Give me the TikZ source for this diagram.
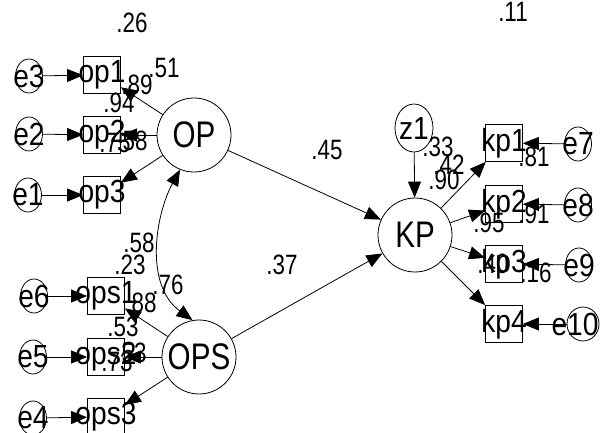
\documentclass[tikz,border=0pt]{standalone}
\usepackage{fontspec}
\setmainfont{Liberation Sans}
\usepackage{graphicx}
\usetikzlibrary{arrows.meta,shapes.geometric}

% narrow text that may spill over its frame
\newcommand\vname[1]{\makebox[0pt]{\scalebox{0.88}[1]{#1}}}
\newcommand\lname[1]{\makebox[0pt]{\scalebox{0.8}[1]{#1}}}
\newcommand\coef[1]{\scalebox{0.8}[1]{#1}}

\tikzset{
  tip/.style={-{Triangle[length=16pt,width=13pt]}},
  dbl/.style={{Triangle[length=16pt,width=13pt]}-{Triangle[length=16pt,width=13pt]}},
  latent/.style={draw, circle, minimum size=74pt, inner sep=0pt,
    font=\fontsize{37}{37}\selectfont},
  obs/.style={draw, rectangle, minimum size=37pt, inner sep=0pt,
    font=\fontsize{32}{32}\selectfont},
  err/.style={draw, ellipse, minimum width=27pt, minimum height=34pt, inner sep=0pt,
    font=\fontsize{32}{32}\selectfont},
  dist/.style={draw, ellipse, minimum width=38pt, minimum height=48pt, inner sep=0pt,
    font=\fontsize{32}{32}\selectfont},
  est/.style={inner sep=0pt, font=\fontsize{28}{28}\selectfont},
}

\begin{document}
\begin{tikzpicture}[x=1pt, y=-1pt, line width=0.8pt]
\useasboundingbox (0,0) rectangle (608,433);
\fill[white] (0,0) rectangle (608,433);

% latent variables
\node[latent] (OP)  at (194,135) {\lname{OP}};
\node[latent] (OPS) at (199,357) {\lname{OPS}};
\node[latent] (KP)  at (415,235) {\lname{KP}};
\node[dist]   (z1)  at (414,128) {\vname{z1}};

% indicators of OP
\node[obs] (op1) at (102,75)  {\vname{op1}};
\node[obs] (op2) at (102,135) {\vname{op2}};
\node[obs] (op3) at (102,195) {\vname{op3}};
\node[err] (e3) at (29,76)  {\vname{e3}};
\node[err] (e2) at (29,134) {\vname{e2}};
\node[err] (e1) at (28,195) {\vname{e1}};

% indicators of OPS
\node[obs] (ops1) at (106,296) {\vname{ops1}};
\node[obs] (ops2) at (106,357) {\vname{ops2}};
\node[obs] (ops3) at (106,417) {\vname{ops3}};
\node[err] (e6) at (34,296) {\vname{e6}};
\node[err] (e5) at (33,357) {\vname{e5}};
\node[err] (e4) at (33,418) {\vname{e4}};

% indicators of KP
\node[obs] (kp1) at (504,143) {\vname{kp1}};
\node[obs] (kp2) at (504,204) {\vname{kp2}};
\node[obs] (kp3) at (504,264) {\vname{kp3}};
\node[obs] (kp4) at (504,324) {\vname{kp4}};
\node[err] (e7)  at (578,144) {\vname{e7}};
\node[err] (e8)  at (578,205) {\vname{e8}};
\node[err] (e9)  at (579,265) {\vname{e9}};
\node[err, minimum width=32pt] (e10) at (583,324) {};
\node[font=\fontsize{32}{32}\selectfont, inner sep=0pt] (e10t) at (575,324) {\vname{e10}};

% error terms
\draw[tip] (e3) -- (op1);
\draw[tip] (e2) -- (op2);
\draw[tip] (e1) -- (op3);
\draw[tip] (e6) -- (ops1);
\draw[tip] (e5) -- (ops2);
\draw[tip] (e4) -- (ops3);
\draw[tip] (e7) -- (kp1);
\draw[tip] (e8) -- (kp2);
\draw[tip] (e9) -- (kp3);
\draw[tip] (e10) -- (kp4);
\draw[tip] (z1) -- (KP);

% loadings
\draw[tip] (OP) -- (op1);
\draw[tip] (OP) -- (op2);
\draw[tip] (OP) -- (op3);
\draw[tip] (OPS) -- (ops1);
\draw[tip] (OPS) -- (ops2);
\draw[tip] (OPS) -- (ops3);
\draw[tip] (KP) -- (kp1);
\draw[tip] (KP) -- (kp2);
\draw[tip] (KP) -- (kp3);
\draw[tip] (KP) -- (kp4);

% structural paths and covariance
\draw[tip] (OP) -- (KP);
\draw[tip] (OPS) -- (KP);
\draw[dbl] (OP.248) .. controls +(-25,46) and +(-48,-35) .. (OPS.100);

% estimates
\node[est] (c26) at (132,23)  {\coef{.26}};
\node[est] (c51) at (164,68)  {\coef{.51}};
\node[est] (c89) at (137,85)  {\coef{.89}};
\node[est] (c94) at (119,103) {\coef{.94}};
\node[est] (c75) at (115,143) {\coef{.75}};
\node[est] (c58a) at (132,141) {\coef{.58}};
\node[est] (c58b) at (139,243) {\coef{.58}};
\node[est] (c23) at (130,265) {\coef{.23}};
\node[est] (c76) at (168,285) {\coef{.76}};
\node[est] (c88) at (141,303) {\coef{.88}};
\node[est] (c53a) at (123,327) {\coef{.53}};
\node[est] (c73) at (117,362) {\coef{.73}};
\node[est] (c53b) at (131,353) {\coef{.53}};
\node[est] (c45) at (327,150) {\coef{.45}};
\node[est] (c37) at (282,265) {\coef{.37}};
\node[est] (c11) at (513,12)  {\coef{.11}};
\node[est] (c33) at (438,147) {\coef{.33}};
\node[est] (c42) at (449,165) {\coef{.42}};
\node[est] (c90) at (444,180) {\coef{.90}};
\node[est] (c81) at (534,157) {\coef{.81}};
\node[est] (c95) at (489,223) {\coef{.95}};
\node[est] (c91) at (534,214) {\coef{.91}};
\node[est] (c40) at (493,264) {\coef{.40}};
\node[est] (c16) at (536,273) {\coef{.16}};
\end{tikzpicture}
\end{document}
